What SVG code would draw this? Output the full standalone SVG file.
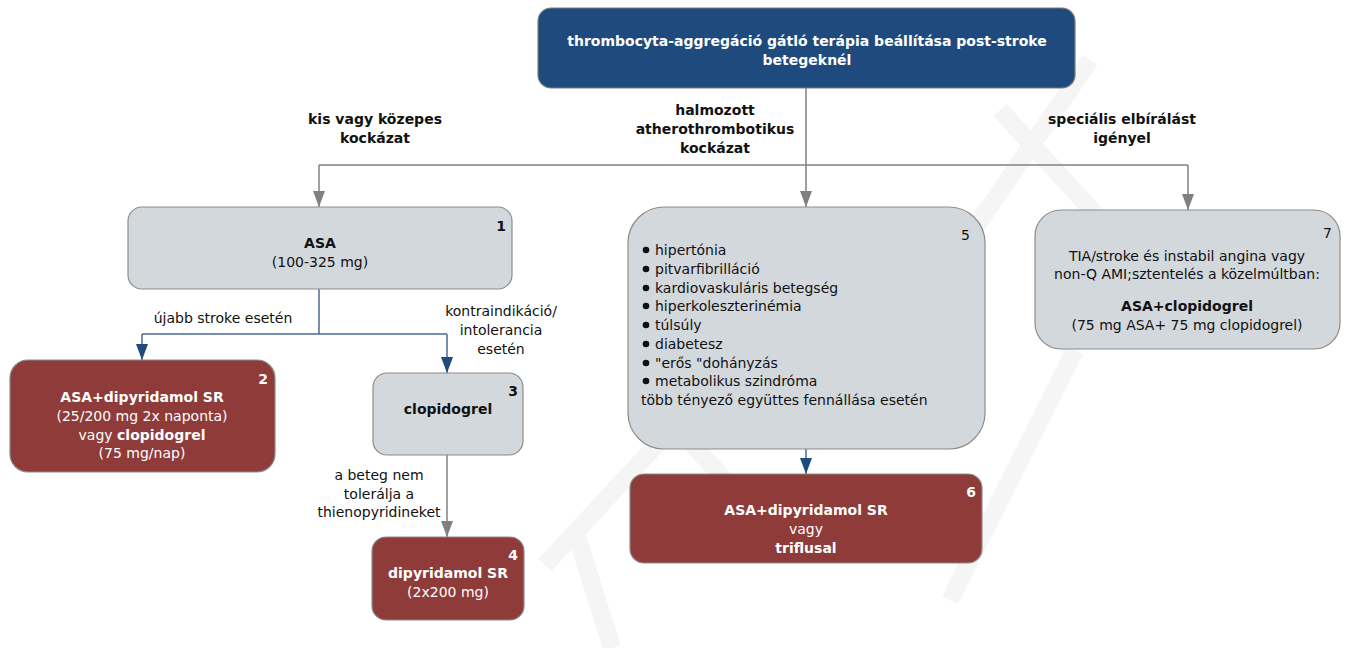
<svg xmlns="http://www.w3.org/2000/svg" width="1345" height="648" viewBox="0 0 1345 648">
  <defs>
    <style>
      text { font-family: "DejaVu Sans", Verdana, sans-serif; font-size: 14px; }
      .c { text-anchor: middle; }
      .b { font-weight: bold; }
      .w { fill: #ffffff; }
      .k { fill: #111111; }
      .blue { fill: #1f4a7e; stroke: #7f7f7f; stroke-width: 1.2; }
      .grey { fill: #d3d8dd; stroke: #8c8c8c; stroke-width: 1.2; }
      .red { fill: #8e3b39; stroke: #8c8c8c; stroke-width: 1.2; }
      .lg { fill: none; stroke: #808080; stroke-width: 1.5; }
      .lb { fill: none; stroke: #4a6a99; stroke-width: 1.5; }
      .wm { fill: none; stroke: #f5f5f5; stroke-width: 18; stroke-linecap: butt; stroke-linejoin: round; }
    </style>
    <marker id="ag" markerWidth="12" markerHeight="18" refX="6" refY="16" markerUnits="userSpaceOnUse" viewBox="0 0 12 18">
      <path d="M0,0 L12,0 L6,16 Z" fill="#808080"/>
    </marker>
    <marker id="ab" markerWidth="12" markerHeight="18" refX="6" refY="16" markerUnits="userSpaceOnUse" viewBox="0 0 12 18">
      <path d="M0,0 L12,0 L6,16 Z" fill="#1f4a7e"/>
    </marker>
  </defs>

  <rect width="1345" height="648" fill="#ffffff"/>

  <!-- faint background watermark strokes -->
  <g id="watermark">
    <path class="wm" d="M545,565 L675,425 L770,530"/>
    <path class="wm" d="M575,530 L612,648"/>
    <path class="wm" d="M1090,60 L905,330"/>
    <path class="wm" d="M1000,110 L1110,230"/>
    <path class="wm" d="M950,600 L1075,350"/>
  </g>

  <!-- connectors -->
  <g id="connectors">
    <path class="lg" d="M806,88 V165"/>
    <path class="lg" d="M319,165 H1188"/>
    <path class="lg" d="M319,165 V207" marker-end="url(#ag)"/>
    <path class="lg" d="M806,165 V207" marker-end="url(#ag)"/>
    <path class="lg" d="M1188,165 V210" marker-end="url(#ag)"/>

    <path class="lb" d="M319,289 V334"/>
    <path class="lb" d="M142,334 H447"/>
    <path class="lb" d="M142,334 V360" marker-end="url(#ab)"/>
    <path class="lb" d="M447,334 V373" marker-end="url(#ab)"/>

    <path class="lg" d="M447,455 V537" marker-end="url(#ag)"/>
    <path class="lb" d="M806,449 V474" marker-end="url(#ab)"/>

    <text class="c b k" x="375" y="124">kis vagy közepes</text>
    <text class="c b k" x="375" y="143">kockázat</text>
    <text class="c b k" x="715" y="115">halmozott</text>
    <text class="c b k" x="715" y="134">atherothrombotikus</text>
    <text class="c b k" x="715" y="153">kockázat</text>
    <text class="c b k" x="1122" y="124">speciális elbírálást</text>
    <text class="c b k" x="1122" y="143">igényel</text>

    <text class="c k" x="223" y="323">újabb stroke esetén</text>
    <text class="c k" x="501" y="316">kontraindikáció/</text>
    <text class="c k" x="501" y="335">intolerancia</text>
    <text class="c k" x="501" y="354">esetén</text>
    <text class="c k" x="379" y="480">a beteg nem</text>
    <text class="c k" x="379" y="499">tolerálja a</text>
    <text class="c k" x="379" y="517">thienopyridineket</text>
  </g>

  <!-- root -->
  <g id="n0">
    <rect class="blue" x="538" y="8" width="537" height="80" rx="13"/>
    <text class="c b w" x="807" y="46">thrombocyta-aggregáció gátló terápia beállítása post-stroke</text>
    <text class="c b w" x="807" y="65">betegeknél</text>
  </g>

  <g id="n1">
    <rect class="grey" x="128" y="207" width="384" height="82" rx="14"/>
    <text class="b k" x="506" y="231" text-anchor="end">1</text>
    <text class="c b k" x="320" y="248">ASA</text>
    <text class="c k" x="320" y="267">(100-325 mg)</text>
  </g>

  <g id="n2">
    <rect class="red" x="10" y="360" width="265" height="112" rx="18"/>
    <text class="b w" x="268" y="384" text-anchor="end">2</text>
    <text class="c b w" x="142" y="402">ASA+dipyridamol SR</text>
    <text class="c w" x="142" y="421">(25/200 mg 2x naponta)</text>
    <text class="c w" x="142" y="440"><tspan>vagy </tspan><tspan class="b">clopidogrel</tspan></text>
    <text class="c w" x="142" y="458">(75 mg/nap)</text>
  </g>

  <g id="n3">
    <rect class="grey" x="373" y="373" width="150" height="82" rx="14"/>
    <text class="b k" x="518" y="396" text-anchor="end">3</text>
    <text class="c b k" x="448" y="414">clopidogrel</text>
  </g>

  <g id="n4">
    <rect class="red" x="372" y="537" width="152" height="83" rx="14"/>
    <text class="b w" x="518" y="560" text-anchor="end">4</text>
    <text class="c b w" x="448" y="578">dipyridamol SR</text>
    <text class="c w" x="448" y="597">(2x200 mg)</text>
  </g>

  <g id="n5">
    <rect class="grey" x="628" y="207" width="357" height="242" rx="36"/>
    <text class="k" x="970" y="240" text-anchor="end">5</text>
    <g class="k">
      <circle cx="646" cy="250" r="3.3"/>
      <circle cx="646" cy="269" r="3.3"/>
      <circle cx="646" cy="288" r="3.3"/>
      <circle cx="646" cy="306" r="3.3"/>
      <circle cx="646" cy="325" r="3.3"/>
      <circle cx="646" cy="344" r="3.3"/>
      <circle cx="646" cy="363" r="3.3"/>
      <circle cx="646" cy="381" r="3.3"/>
    </g>
    <text class="k" x="655" y="255">hipertónia</text>
    <text class="k" x="655" y="274">pitvarfibrilláció</text>
    <text class="k" x="655" y="293">kardiovaskuláris betegség</text>
    <text class="k" x="655" y="311">hiperkoleszterinémia</text>
    <text class="k" x="655" y="330">túlsúly</text>
    <text class="k" x="655" y="349">diabetesz</text>
    <text class="k" x="655" y="368">"erős "dohányzás</text>
    <text class="k" x="655" y="386">metabolikus szindróma</text>
    <text class="k" x="641" y="405">több tényező együttes fennállása esetén</text>
  </g>

  <g id="n6">
    <rect class="red" x="630" y="474" width="352" height="89" rx="14"/>
    <text class="b w" x="976" y="497" text-anchor="end">6</text>
    <text class="c b w" x="806" y="515">ASA+dipyridamol SR</text>
    <text class="c w" x="806" y="534">vagy</text>
    <text class="c b w" x="806" y="553">triflusal</text>
  </g>

  <g id="n7">
    <rect class="grey" x="1035" y="210" width="305" height="139" rx="26"/>
    <text class="k" x="1332" y="238" text-anchor="end">7</text>
    <text class="c k" x="1187" y="261">TIA/stroke és instabil angina vagy</text>
    <text class="c k" x="1187" y="279">non-Q AMI;sztentelés a közelmúltban:</text>
    <text class="c b k" x="1187" y="311">ASA+clopidogrel</text>
    <text class="c k" x="1187" y="330">(75 mg ASA+ 75 mg clopidogrel)</text>
  </g>
</svg>
